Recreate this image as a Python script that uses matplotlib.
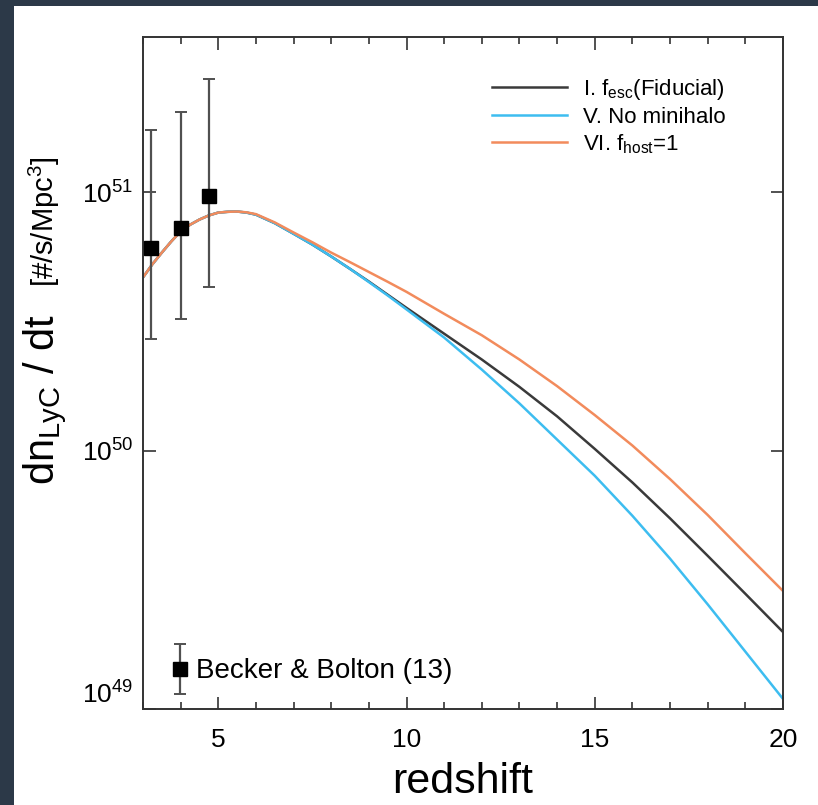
import numpy as np
import matplotlib.pyplot as plt
from matplotlib.patches import Rectangle
from matplotlib.ticker import MultipleLocator, NullLocator
from matplotlib.legend_handler import HandlerErrorbar

plt.rcParams['font.family'] = ['Liberation Sans', 'DejaVu Sans']
plt.rcParams['mathtext.default'] = 'regular'

# redshift grid and log10 of the LyC photon rate density for each model
z = [3, 3.25, 3.5, 3.75, 4, 4.25, 4.5, 4.75, 5, 5.25, 5.5, 5.75, 6, 6.5, 7, 7.5, 8, 8.5, 9, 9.5, 10,
     11, 12, 13, 14, 15, 16, 17, 18, 19, 20]
log_fiducial = [50.671, 50.722, 50.767, 50.810, 50.849, 50.875, 50.895, 50.911, 50.922, 50.925, 50.926,
                50.922, 50.914, 50.881, 50.840, 50.798, 50.752, 50.704, 50.655, 50.604, 50.553,
                50.453, 50.353, 50.247, 50.133, 50.007, 49.877, 49.738, 49.593, 49.446, 49.298]
log_nominihalo = [50.671, 50.722, 50.767, 50.810, 50.849, 50.875, 50.895, 50.911, 50.922, 50.925, 50.926,
                  50.922, 50.914, 50.881, 50.840, 50.798, 50.752, 50.704, 50.653, 50.601, 50.547,
                  50.438, 50.314, 50.183, 50.043, 49.903, 49.748, 49.582, 49.405, 49.222, 49.039]
log_fhost = [50.671, 50.722, 50.767, 50.810, 50.849, 50.875, 50.895, 50.911, 50.922, 50.925, 50.926,
             50.923, 50.916, 50.884, 50.845, 50.807, 50.767, 50.730, 50.692, 50.654, 50.615,
             50.530, 50.447, 50.353, 50.250, 50.138, 50.020, 49.890, 49.751, 49.603, 49.457]

labels = ['I. f$_{esc}$(Fiducial)', 'V. No minihalo', 'VI. f$_{host}$=1']
colors = ['#3a3a3a', '#3dbdf0', '#f28b5c']

# Becker & Bolton (2013) points
bb_z = [3.2, 4.0, 4.75]
bb_val = [6.1e50, 7.3e50, 9.7e50]
bb_lo = [2.7e50, 3.25e50, 4.3e50]
bb_hi = [1.75e51, 2.05e51, 2.75e51]

fig = plt.figure(figsize=(8.18, 8.05), dpi=100, facecolor='#2c3948')
fig.add_artist(Rectangle((14 / 818, 0), 1, 799 / 805, transform=fig.transFigure,
                         facecolor='white', edgecolor='none', zorder=0))

ax = fig.add_axes([0.1748, 0.1193, 0.7824, 0.8348])

lines = []
for vals, lab, col in zip([log_fiducial, log_nominihalo, log_fhost], labels, colors):
    l, = ax.plot(z, 10 ** np.array(vals), color=col, lw=1.8, label=lab)
    lines.append(l)

yerr = [np.array(bb_val) - np.array(bb_lo), np.array(bb_hi) - np.array(bb_val)]
eb = ax.errorbar(bb_z, bb_val, yerr=yerr, fmt='s', color='black', ms=10,
                 ecolor='#505050', elinewidth=1.6, capsize=4, capthick=1.4,
                 label='Becker & Bolton (13)', zorder=5)

ax.set_yscale('log')
ax.set_xlim(3, 20)
ax.set_ylim(1e49, 4e51)

ax.set_xticks([5, 10, 15, 20])
ax.xaxis.set_minor_locator(MultipleLocator(1))
ax.set_yticks([1e49, 1e50, 1e51])
ax.set_yticklabels([r'$10^{49}$', r'$10^{50}$', r'$10^{51}$'])
ax.yaxis.set_minor_locator(NullLocator())
ax.tick_params(which='both', direction='in', top=True, right=True, width=1.2, color='#333333')
ax.tick_params(which='major', length=9, labelsize=19)
ax.tick_params(axis='x', which='major', pad=14)
ax.tick_params(axis='y', which='major', pad=7)
ax.tick_params(which='minor', length=5)
ax.yaxis.get_major_ticks()[0].label1.set_va('bottom')
for s in ax.spines.values():
    s.set_linewidth(1.4)
    s.set_color('#333333')

ax.set_xlabel('redshift', fontsize=31, labelpad=7)

fig.text(0.066, 1 - 400 / 805, r'dn$_{LyC}$ / dt', rotation=90, fontsize=30,
         ha='center', va='baseline', rotation_mode='anchor')
fig.text(0.066, 1 - 222 / 805, r'[#/s/Mpc$^{3}$]', rotation=90, fontsize=21,
         ha='center', va='baseline', rotation_mode='anchor')

leg1 = ax.legend(handles=lines, loc='upper left', bbox_to_anchor=(0.545, 0.94),
                 frameon=False, fontsize=16, handlelength=3.4, handletextpad=0.7,
                 labelspacing=0.2, borderpad=0, borderaxespad=0)
ax.add_artist(leg1)
ax.legend(handles=[eb], loc='center left', bbox_to_anchor=(0.048, 0.056),
          frameon=False, fontsize=20, handlelength=0.45, handletextpad=0.35,
          borderpad=0, borderaxespad=0,
          handler_map={type(eb): HandlerErrorbar(yerr_size=0.9)})

fig.savefig('out.png', dpi=100, facecolor=fig.get_facecolor())
